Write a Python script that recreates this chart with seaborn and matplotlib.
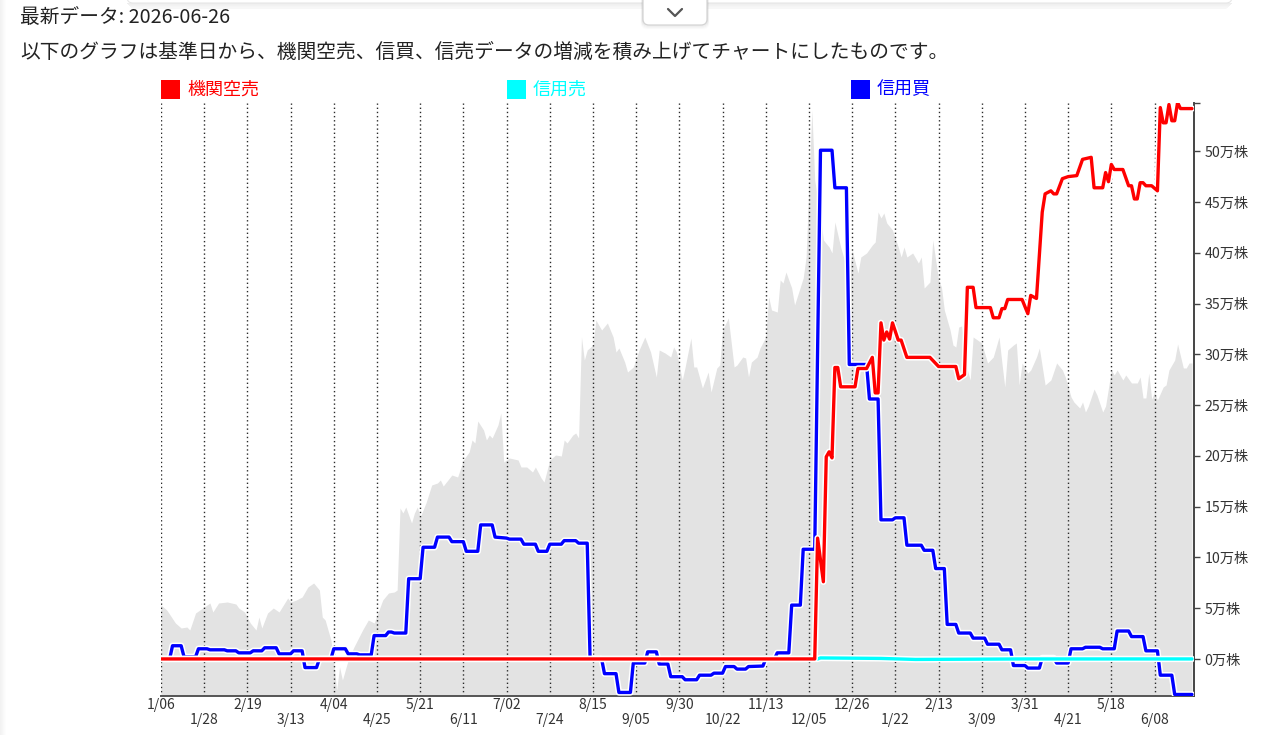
import matplotlib
matplotlib.use("Agg")
import matplotlib.pyplot as plt
import seaborn as sns
import numpy as np
import pandas as pd
from matplotlib import patheffects as pe
from matplotlib.patches import Rectangle, FancyBboxPatch

# ---------------- data (x = trading-day index from 2025-01-06) ----------------
date_labels = ["1/06", "1/28", "2/19", "3/13", "4/04", "4/25", "5/21", "6/11",
               "7/02", "7/24", "8/15", "9/05", "9/30", "10/22", "11/13", "12/05",
               "12/26", "1/22", "2/13", "3/09", "3/31", "4/21", "5/18", "6/08"]
label_step = 15

# share price (background area, arbitrary price units)
price_idx = [0, 2, 5, 7, 9, 10, 12, 15, 17, 18, 20, 23, 26, 27, 29, 31, 33, 34, 35, 37, 39, 41, 44, 45, 47, 49,
             51, 53, 55, 56, 57, 59, 60, 61, 62, 63, 65, 67, 70, 72, 74, 77, 79, 81, 82, 83, 84, 85, 87, 88, 89,
             90, 92, 94, 96, 97, 98, 101, 103, 105, 107, 108, 109, 110, 112, 113, 114, 115, 117, 118, 119, 121,
             124, 125, 127, 129, 130, 132, 133, 135, 137, 139, 140, 141, 143, 144, 145, 146, 147, 148, 150, 151,
             153, 155, 157, 158, 159, 161, 162, 164, 166, 168, 170, 172, 173, 175, 177, 178, 179, 181, 182, 184,
             185, 186, 188, 190, 191, 193, 194, 195, 197, 199, 200, 202, 203, 204, 205, 207, 208, 210, 211, 212,
             214, 215, 216, 217, 219, 220, 223, 224, 226, 227, 229, 230, 232, 233, 234, 236, 238, 239, 240, 242,
             243, 245, 247, 248, 249, 250, 251, 252, 254, 256, 257, 258, 259, 261, 263, 264, 265, 267, 268, 270,
             271, 272, 274, 275, 276, 277, 278, 280, 281, 282, 284, 285, 287, 289, 291, 292, 293, 294, 296, 297,
             298, 299, 301, 302, 304, 305, 307, 309, 311, 313, 314, 316, 317, 319, 320, 321, 322, 324, 325, 327,
             328, 330, 331, 332, 334, 335, 337, 339, 340, 341, 342, 343, 344, 345, 346, 348, 349, 350, 352, 353,
             355, 356, 357, 358]
price = [91, 86, 73, 68, 69, 66, 83, 89, 93, 84, 93, 94, 92, 88, 84, 73, 66, 79, 68, 83, 88, 84, 98, 94, 96, 99,
         109, 113, 106, 79, 76, 56, 33, 6, 29, 16, 36, 49, 66, 76, 73, 96, 103, 104, 106, 188, 183, 189, 173, 183, 189,
         179, 193, 211, 213, 216, 210, 221, 219, 236, 244, 256, 253, 275, 266, 256, 261, 258, 271, 283, 234, 238,
         236, 229, 229, 224, 229, 218, 214, 236, 241, 240, 256, 253, 261, 263, 258, 359, 336, 346, 351, 376,
         366, 373, 359, 344, 348, 334, 324, 329, 346, 359, 344, 319, 346, 343, 339, 349, 344, 316, 329, 358,
         329, 329, 308, 324, 304, 328, 331, 366, 378, 329, 331, 339, 338, 319, 334, 339, 348, 359, 399, 386,
         384, 416, 413, 424, 408, 391, 418, 439, 586, 516, 479, 456, 449, 443, 474, 449, 429, 423, 446, 423,
         439, 443, 451, 454, 484, 478, 483, 473, 466, 449, 439, 449, 439, 443, 433, 439, 408, 414, 456, 416,
         409, 386, 366, 351, 349, 369, 370, 326, 316, 359, 355, 353, 333, 339, 359, 333, 309, 346, 351, 353,
         311, 333, 323, 326, 339, 348, 311, 316, 333, 326, 319, 299, 294, 288, 294, 284, 290, 307, 301, 284,
         290, 326, 321, 326, 316, 321, 313, 313, 319, 298, 298, 323, 297, 304, 296, 309, 311, 326, 336, 352,
         328, 328, 333, 333]

# 機関空売 cumulative change (万株)
kikan_x = [0, 227, 228, 230, 231, 232, 233, 234, 235, 236, 241, 242, 245, 247, 248, 249, 250, 251, 252, 253,
           254, 256, 257, 259, 267, 268, 270, 276, 277, 279, 280, 282, 283, 288, 289, 291, 292, 293, 294, 299,
           301, 302, 304, 306, 307, 309, 310, 311, 313, 315, 318, 320, 323, 324, 327, 328, 329, 330, 331, 334,
           336, 337, 338, 339, 340, 341, 342, 344, 346, 347, 348, 349, 350, 351, 352, 353, 354, 358]
kikan_y = [0, 0, 11.9, 7.6, 19.9, 20.4, 19.8, 28.7, 28.7, 26.8, 26.8, 28.6, 28.6, 29.7, 26.2, 26.2, 33.1, 31.4, 32.2, 31.5,
           33.1, 31.4, 31.4, 29.7, 29.7, 29.4, 28.8, 28.8, 27.6, 28.0, 36.6, 36.6, 34.6, 34.6, 33.6, 33.6, 34.5, 34.5, 35.4, 35.4,
           34.0, 35.8, 35.5, 44.0, 45.8, 46.1, 45.8, 45.8, 47.3, 47.5, 47.6, 49.2, 49.4, 46.4, 46.4, 47.9, 47.0, 48.7, 48.2, 48.2,
           46.6, 46.6, 45.3, 45.3, 46.9, 46.9, 46.6, 46.6, 46.1, 54.3, 52.8, 52.8, 54.6, 53.0, 53.0, 54.8, 54.2, 54.2]

# 信用売 cumulative change (万株)
uri_x = [0, 228, 229, 250, 262, 300, 358]
uri_y = [0, 0, 0.1, 0.05, -0.05, 0.0, 0.0]

# 信用買 cumulative change (万株)
kai_x = [0, 3, 4, 7, 8, 12, 13, 16, 17, 22, 23, 26, 27, 31, 32, 35, 36, 40, 41, 45, 46, 49, 50, 54, 55, 59,
         60, 64, 65, 68, 69, 73, 74, 78, 79, 80, 81, 85, 86, 90, 91, 95, 96, 100, 101, 105, 106, 110, 111, 115,
         116, 120, 121, 125, 126, 130, 131, 134, 135, 139, 140, 144, 145, 148, 149, 153, 154, 158, 159, 163,
         164, 168, 169, 172, 173, 176, 177, 181, 182, 186, 187, 191, 192, 195, 196, 199, 200, 203, 204, 209,
         210, 213, 214, 218, 219, 222, 223, 227, 229, 233, 234, 238, 239, 245, 246, 249, 250, 254, 255, 258,
         259, 264, 265, 268, 269, 272, 273, 276, 277, 281, 282, 286, 287, 291, 292, 295, 296, 300, 301, 305,
         306, 310, 311, 315, 316, 320, 321, 326, 327, 331, 332, 336, 337, 341, 342, 346, 347, 351, 352, 358]
kai_y = [0, 0, 1.3, 1.3, 0.2, 0.2, 1.0, 1.0, 0.9, 0.9, 0.8, 0.8, 0.6, 0.6, 0.8, 0.8, 1.1, 1.1, 0.5, 0.5, 0.8, 0.8, -0.85, -0.85, 0, 0,
         1.0, 1.0, 0.5, 0.5, 0.4, 0.4, 2.3, 2.3, 2.65, 2.65, 2.55, 2.55, 7.9, 7.9, 11.0, 11.0, 12.0, 12.0, 11.55, 11.55, 10.6, 10.6, 13.2, 13.2,
         12.0, 11.9, 11.8, 11.8, 11.3, 11.3, 10.6, 10.6, 11.3, 11.3, 11.65, 11.65, 11.4, 11.4, 0, 0, -1.45, -1.45, -3.3, -3.3,
         -0.4, -0.4, 0.7, 0.7, -0.5, -0.5, -1.75, -1.75, -2.05, -2.05, -1.6, -1.6, -1.4, -1.4, -0.75, -0.75, -1.0, -1.0, -0.75, -0.7,
         0, 0, 0.6, 0.6, 5.3, 5.3, 10.8, 10.8, 50.1, 50.1, 46.4, 46.4, 29.0, 29.0, 25.6, 25.6, 13.7, 13.7, 13.9, 13.9,
         11.2, 11.2, 10.7, 10.7, 8.9, 8.9, 3.4, 3.4, 2.55, 2.55, 2.05, 2.05, 1.45, 1.45, 0.9, 0.9, -0.65, -0.65, -0.9, -0.9,
         0.1, 0.1, -0.4, -0.4, 1.0, 1.0, 1.15, 1.15, 1.0, 1.0, 2.75, 2.75, 2.2, 2.2, 0.8, 0.8, -1.6, -1.6, -3.5, -3.5]

y_ticks = [0, 5, 10, 15, 20, 25, 30, 35, 40, 45, 50]
legend_names = ["機関空売", "信用売", "信用買"]
header_date = "最新データ: 2026-06-26"
header_desc = "以下のグラフは基準日から、機関空売、信買、信売データの増減を積み上げてチャートにしたものです。"

# ---------------- style ----------------
sns.set_theme(style="white")
plt.rcParams["font.family"] = ["Noto Sans CJK JP", "DejaVu Sans"]

W, H = 1280, 735
fig = plt.figure(figsize=(12.8, 7.35), dpi=100)
fig.patch.set_facecolor("white")

def fx(px):
    return px / W

def fy(py):
    return 1 - py / H

# main axes (price area + date grid)
ax = fig.add_axes([fx(161), fy(696), fx(1194) - fx(161), fy(103) - fy(696)])
ax.set_facecolor("none")
ax.fill_between(price_idx, price, 0, color="#e3e3e3", lw=0, zorder=1)
ax.set_ylim(0, 593)
ax.set_xlim(0, 358.7)
ax.set_yticks([])
tick_pos = [i * label_step for i in range(len(date_labels))]
for t in tick_pos:
    ax.axvline(t, color="#2a2a2a", lw=1.0, ls=(0, (1, 2)), zorder=2)
for s in ["top", "left", "right"]:
    ax.spines[s].set_visible(False)
ax.spines["bottom"].set_color("#555555")
ax.spines["bottom"].set_linewidth(1.4)

ax.set_xticks(tick_pos[0::2])
ax.set_xticklabels(date_labels[0::2])
ax.set_xticks(tick_pos[1::2], minor=True)
ax.set_xticklabels(date_labels[1::2], minor=True)
ax.tick_params(axis="x", which="major", length=0, pad=1.5, labelsize=10, labelcolor="#333333")
ax.tick_params(axis="x", which="minor", length=0, pad=12.5, labelsize=10, labelcolor="#333333")

# lines axis (right)
ax2 = ax.twinx()
halo = lambda w: [pe.Stroke(linewidth=w + 2.2, foreground="white"), pe.Normal()]
df_kai = pd.DataFrame({"x": kai_x, "y": kai_y})
df_uri = pd.DataFrame({"x": uri_x, "y": uri_y})
df_kikan = pd.DataFrame({"x": kikan_x, "y": kikan_y})
sns.lineplot(data=df_kai, x="x", y="y", ax=ax2, color="#0000ff", lw=2.4,
             estimator=None, sort=False, path_effects=halo(2.4), zorder=3)
sns.lineplot(data=df_uri, x="x", y="y", ax=ax2, color="#00ffff", lw=2.4,
             estimator=None, sort=False, path_effects=halo(2.4), zorder=4)
sns.lineplot(data=df_kikan, x="x", y="y", ax=ax2, color="#ff0000", lw=2.4,
             estimator=None, sort=False, path_effects=halo(2.4), zorder=5)
ax2.set_xlim(0, 358.7)
ymin, ymax = -3.65, 54.75
ax2.set_ylim(ymin, ymax)
ax2.set_xlabel("")
ax2.set_ylabel("")
ax2.set_yticks(y_ticks + [ymax])
ax2.set_yticklabels([f"{v}万株" for v in y_ticks] + [""])
ax2.tick_params(axis="y", which="major", right=True, left=False, direction="out",
                length=4.5, width=1.0, color="#444444", pad=3, labelsize=10.2, labelcolor="#333333")
for s in ["top", "left", "bottom"]:
    ax2.spines[s].set_visible(False)
ax2.spines["right"].set_color("#444444")
ax2.spines["right"].set_linewidth(1.4)
ax2.patch.set_visible(False)

# ---------------- overlay: header, legend, page decoration ----------------
ov = fig.add_axes([0, 0, 1, 1], zorder=10)
ov.set_xlim(0, W)
ov.set_ylim(H, 0)
ov.axis("off")
ov.patch.set_visible(False)

# page left shadow
for i in range(6):
    ov.add_patch(Rectangle((i, 0), 1, H, color="#000000", alpha=0.05 * (6 - i) / 6, lw=0))

# top panel with shadow
for i in range(7):
    ov.add_patch(Rectangle((127 + i, 3 + i * 0.9), 1232 - 127 - 2 * i, 1.0,
                           color="#000000", alpha=0.07 * (7 - i) / 7, lw=0))
ov.add_patch(FancyBboxPatch((127, -20), 1232 - 127, 23, boxstyle="round,pad=0,rounding_size=6",
                            fc="white", ec="#e6e6e6", lw=0.8))
# dropdown button
for i in range(5):
    ov.add_patch(FancyBboxPatch((643 - i * 0.4, -10), 64 + i * 0.8, 35 + i * 0.9,
                                boxstyle="round,pad=0,rounding_size=6",
                                fc="none", ec="#000000", alpha=0.05 * (5 - i) / 5, lw=1.2))
ov.add_patch(FancyBboxPatch((643, -10), 64, 35, boxstyle="round,pad=0,rounding_size=6",
                            fc="white", ec="#d4d4d4", lw=0.9))
ov.plot([668, 675, 682], [9, 16, 9], color="#555555", lw=1.6, solid_capstyle="round",
        solid_joinstyle="round")

ov.text(20, 17, header_date, fontsize=14.2, color="#222222", va="center", ha="left")
ov.text(20, 52, header_desc, fontsize=14.2, color="#222222", va="center", ha="left")

leg_colors = ["#ff0000", "#00ffff", "#0000ff"]
leg_x = [161, 507, 851]
for name, col, x0 in zip(legend_names, leg_colors, leg_x):
    ov.add_patch(Rectangle((x0, 80), 19, 19, color=col, lw=0))
    ov.text(x0 + 26, 89.5, name, fontsize=13, color=col, va="center", ha="left")

fig.savefig("out.png", dpi=100, facecolor="white")
